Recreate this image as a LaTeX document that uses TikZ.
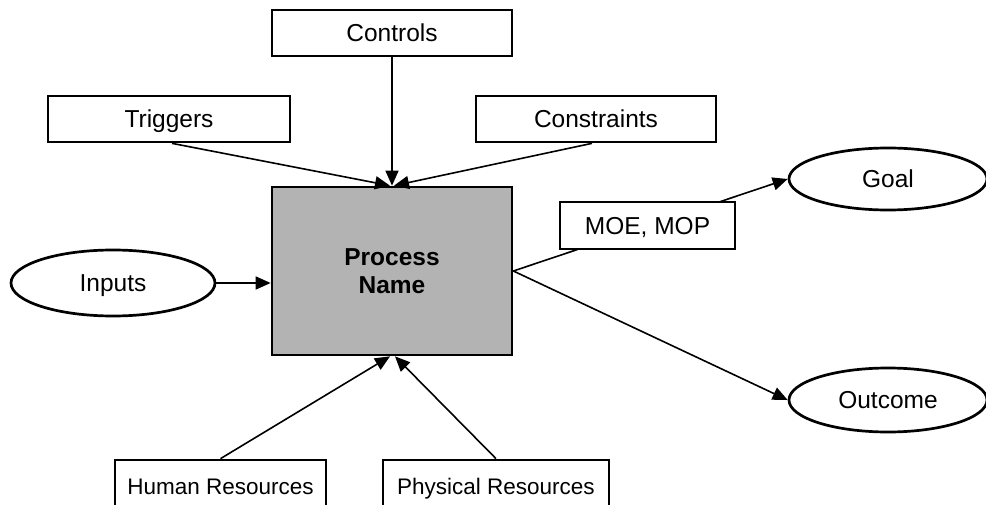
\documentclass[tikz,border=0pt]{standalone}
\usepackage{fontspec}
\setmainfont{Liberation Sans}
\usetikzlibrary{arrows.meta,shapes.geometric}
\definecolor{procfill}{RGB}{179,179,179}
\begin{document}
\begin{tikzpicture}[x=1pt,y=-1pt,
  lbl/.style={font=\fontsize{24.5}{28}\selectfont,text height=17.5pt,text depth=0pt},
  smalllbl/.style={font=\fontsize{22.5}{26}\selectfont,text height=16pt,text depth=0pt},
  box/.style={draw,line width=2.7pt,fill=white,inner sep=0pt},
  oval/.style={ellipse,draw,line width=2.7pt,fill=white,inner sep=0pt},
  link/.style={line width=1.6pt},
  arr/.style={link,-{Triangle[length=15pt,width=13pt]}}]
\useasboundingbox (0,0) rectangle (986,505);

% process box
\node[box,fill=procfill,minimum width=240pt,minimum height=168pt,align=center,
      font=\fontsize{24.5}{28}\selectfont\bfseries] (proc) at (392,271) {Process\\Name};

% boxes above
\node[box,lbl,minimum width=240pt,minimum height=46pt] (controls) at (392,33) {Controls};
\node[box,lbl,minimum width=242pt,minimum height=46pt] (triggers) at (169,119) {Triggers};
\node[box,lbl,minimum width=240pt,minimum height=46pt] (constraints) at (596,119) {Constraints};

% resource boxes below
\node[box,smalllbl,minimum width=211pt,minimum height=52pt] (hr) at (220.5,486) {Human Resources};
\node[box,smalllbl,minimum width=226pt,minimum height=52pt] (pr) at (496,486) {Physical Resources};

% ovals
\node[oval,lbl,minimum width=204pt,minimum height=66pt] (inputs) at (113,283) {Inputs};
\node[oval,lbl,minimum width=198pt,minimum height=62pt] (goal) at (888,179) {Goal};
\node[oval,lbl,minimum width=198pt,minimum height=64pt] (outcome) at (888,400) {Outcome};

% connectors into the process
\draw[arr] ([xshift=3pt]triggers.south) -- ([xshift=-2pt]proc.north);
\draw[arr] (controls.south) -- (proc.north);
\draw[arr] ([xshift=-4pt]constraints.south) -- ([xshift=2pt]proc.north);
\draw[arr] (inputs.east) -- (inputs.east -| proc.west);
\draw[arr] (hr.north) -- ([xshift=-2pt]proc.south);
\draw[arr] (pr.north) -- ([xshift=3pt]proc.south);

% connectors out of the process
\draw[arr] (proc.east) -- (goal.west);
\draw[arr] (proc.east) -- (outcome.west);

% measures label sits over the goal line
\node[box,lbl,minimum width=175pt,minimum height=47pt] (moe) at (647.5,225.5) {MOE, MOP};
\end{tikzpicture}
\end{document}
